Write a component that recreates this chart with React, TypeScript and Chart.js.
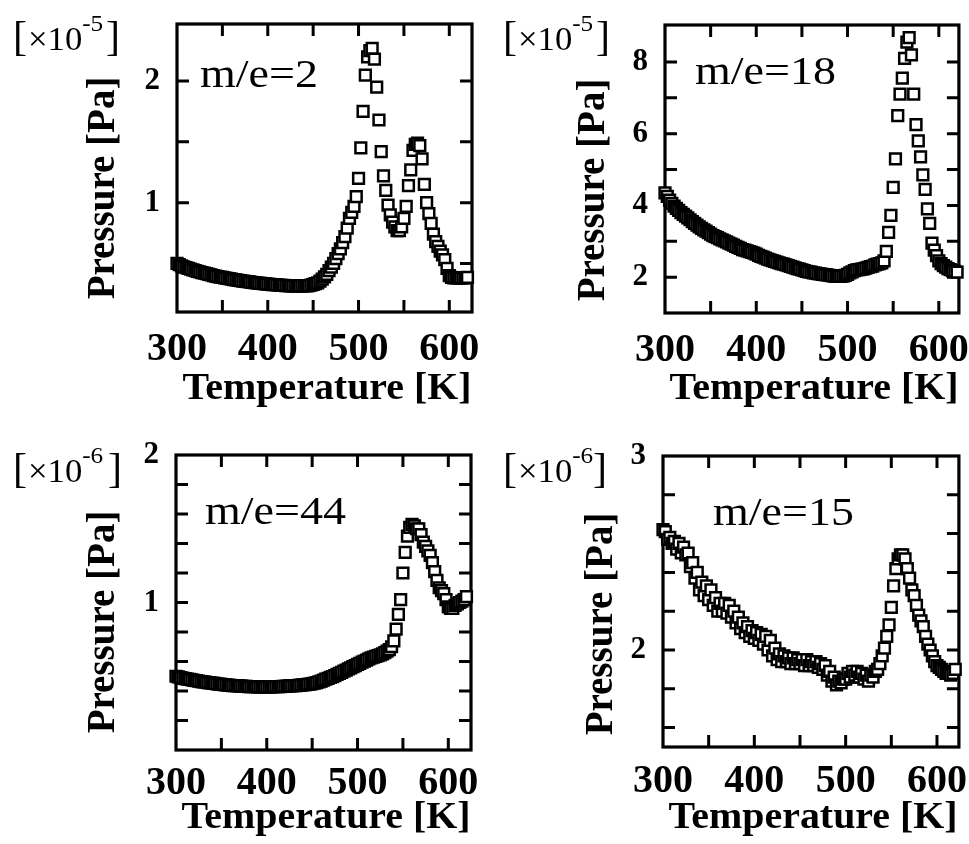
import React, { useEffect, useRef } from "react";
import { Chart, registerables } from "chart.js";

Chart.register(...registerables);

// Temperature [K] (shared by all four panels)
const temperatureK = [
  300, 302.5, 305, 307.5, 310, 312.5, 315, 317.5, 320, 322.5,
  325, 327.5, 330, 332.5, 335, 337.5, 340, 342.5, 345, 347.5,
  350, 352.5, 355, 357.5, 360, 362.5, 365, 367.5, 370, 372.5,
  375, 377.5, 380, 382.5, 385, 387.5, 390, 392.5, 395, 397.5,
  400, 402.5, 405, 407.5, 410, 412.5, 415, 417.5, 420, 422.5,
  425, 427.5, 430, 432.5, 435, 437.5, 440, 442.5, 445, 447.5,
  450, 452.5, 455, 457.5, 460, 462.5, 465, 467.5, 470, 472.5,
  475, 477.5, 480, 482.5, 485, 487.5, 490, 492.5, 495, 497.5,
  500, 502.5, 505, 507.5, 510, 512.5, 515, 517.5, 520, 522.5,
  525, 527.5, 530, 532.5, 535, 537.5, 540, 542.5, 545, 547.5,
  550, 552.5, 555, 557.5, 560, 562.5, 565, 567.5, 570, 572.5,
  575, 577.5, 580, 582.5, 585, 587.5, 590, 592.5, 595, 597.5,
  600, 602.5, 605, 607.5, 610, 612.5, 615, 617.5, 620,
];

// m/e=2, pressure in units of 1e-5 Pa
const pressureMe2 = [
  0.50, 0.49, 0.48, 0.472, 0.465, 0.458, 0.452, 0.446, 0.44, 0.435,
  0.43, 0.425, 0.42, 0.415, 0.41, 0.405, 0.40, 0.396, 0.392, 0.388,
  0.384, 0.38, 0.377, 0.374, 0.37, 0.367, 0.364, 0.361, 0.358, 0.355,
  0.352, 0.35, 0.347, 0.344, 0.342, 0.34, 0.337, 0.335, 0.333, 0.331,
  0.33, 0.328, 0.326, 0.325, 0.323, 0.322, 0.32, 0.319, 0.318, 0.317,
  0.316, 0.315, 0.315, 0.314, 0.314, 0.314, 0.315, 0.316, 0.318, 0.322,
  0.327, 0.333, 0.34, 0.355, 0.37, 0.39, 0.41, 0.44, 0.47, 0.50,
  0.54, 0.58, 0.62, 0.67, 0.72, 0.79, 0.87, 0.92, 0.97, 1.05,
  1.2, 1.45, 1.75, 2.05, 2.2, 2.25, 2.27, 2.18, 1.95, 1.68,
  1.42, 1.22, 1.10, 0.98, 0.90, 0.84, 0.80, 0.77, 0.77, 0.80,
  0.87, 0.97, 1.14, 1.27, 1.43, 1.48, 1.49, 1.47, 1.36, 1.15,
  1.0, 0.91, 0.83, 0.74, 0.68, 0.64, 0.60, 0.57, 0.53, 0.46,
  0.40, 0.385, 0.38, 0.38, 0.38, 0.38, 0.38, 0.38, 0.385,
];

// m/e=18, pressure in units of 1e-5 Pa
const pressureMe18 = [
  4.35, 4.25, 4.15, 4.06, 3.98, 3.92, 3.86, 3.80, 3.75, 3.70,
  3.65, 3.60, 3.55, 3.50, 3.45, 3.40, 3.36, 3.32, 3.28, 3.24,
  3.20, 3.16, 3.13, 3.10, 3.07, 3.04, 3.01, 2.98, 2.95, 2.92,
  2.89, 2.86, 2.83, 2.80, 2.77, 2.75, 2.73, 2.71, 2.69, 2.67,
  2.64, 2.61, 2.58, 2.56, 2.53, 2.50, 2.48, 2.46, 2.44, 2.42,
  2.40, 2.38, 2.36, 2.34, 2.32, 2.30, 2.28, 2.26, 2.24, 2.22,
  2.20, 2.18, 2.16, 2.15, 2.14, 2.12, 2.11, 2.10, 2.09, 2.08,
  2.07, 2.06, 2.05, 2.04, 2.03, 2.02, 2.02, 2.02, 2.03, 2.05,
  2.08, 2.12, 2.15, 2.18, 2.20, 2.21, 2.22, 2.23, 2.25, 2.27,
  2.29, 2.31, 2.34, 2.36, 2.38, 2.40, 2.45, 2.72, 3.25, 3.72,
  4.5, 5.3, 6.5, 7.1, 7.55, 8.1, 8.55, 8.68, 8.2, 7.1,
  6.25, 5.8, 5.35, 4.85, 4.45, 3.9, 3.5, 2.95, 2.75, 2.6,
  2.45, 2.38, 2.32, 2.28, 2.24, 2.21, 2.18, 2.16, 2.14,
];

// m/e=44, pressure in units of 1e-6 Pa
const pressureMe44 = [
  0.50, 0.495, 0.49, 0.487, 0.484, 0.481, 0.478, 0.475, 0.472, 0.47,
  0.467, 0.464, 0.462, 0.46, 0.457, 0.455, 0.453, 0.451, 0.449, 0.447,
  0.445, 0.443, 0.441, 0.44, 0.438, 0.437, 0.436, 0.435, 0.434, 0.433,
  0.432, 0.431, 0.43, 0.43, 0.429, 0.429, 0.428, 0.428, 0.428, 0.428,
  0.428, 0.428, 0.428, 0.429, 0.429, 0.43, 0.43, 0.431, 0.432, 0.433,
  0.434, 0.435, 0.436, 0.437, 0.438, 0.44, 0.441, 0.443, 0.445, 0.447,
  0.45, 0.453, 0.457, 0.462, 0.467, 0.473, 0.48, 0.486, 0.492, 0.498,
  0.505, 0.512, 0.52, 0.527, 0.535, 0.542, 0.55, 0.557, 0.565, 0.572,
  0.58, 0.587, 0.595, 0.602, 0.61, 0.617, 0.625, 0.63, 0.635, 0.64,
  0.645, 0.652, 0.66, 0.67, 0.68, 0.70, 0.74, 0.82, 0.92, 1.02,
  1.2, 1.34, 1.45, 1.51, 1.53, 1.52, 1.50, 1.50, 1.46, 1.41,
  1.38, 1.35, 1.32, 1.27, 1.21, 1.15, 1.10, 1.08, 1.06, 1.02,
  0.97, 0.96, 0.96, 0.98, 0.99, 1.0, 1.01, 1.02, 1.04,
];

// m/e=15, pressure in units of 1e-6 Pa (noisy trace, two interleaved levels)
const pressureMe15 = [
  2.62, 2.61, 2.57, 2.58, 2.55, 2.56, 2.52, 2.55, 2.50, 2.53,
  2.49, 2.50, 2.43, 2.45, 2.37, 2.40, 2.31, 2.35, 2.28, 2.33,
  2.26, 2.31, 2.23, 2.27, 2.20, 2.24, 2.20, 2.24, 2.19, 2.23,
  2.17, 2.20, 2.14, 2.17, 2.11, 2.14, 2.09, 2.12, 2.07, 2.10,
  2.06, 2.09, 2.05, 2.08, 2.03, 2.07, 2.00, 2.05, 1.97, 2.01,
  1.95, 1.98, 1.94, 1.97, 1.94, 1.96, 1.93, 1.96, 1.93, 1.95,
  1.93, 1.95, 1.92, 1.95, 1.92, 1.94, 1.92, 1.94, 1.91, 1.93,
  1.90, 1.92, 1.87, 1.89, 1.84, 1.86, 1.82, 1.84, 1.83, 1.85,
  1.85, 1.88, 1.86, 1.89, 1.87, 1.89, 1.86, 1.88, 1.85, 1.87,
  1.84, 1.87, 1.86, 1.89, 1.90, 1.93, 1.97, 2.01, 2.07, 2.13,
  2.22, 2.33, 2.42, 2.47, 2.49, 2.49, 2.47, 2.42, 2.37, 2.31,
  2.28, 2.23, 2.18, 2.15, 2.12, 2.07, 2.03, 2.00, 1.97, 1.94,
  1.92, 1.91, 1.90, 1.89, 1.88, 1.88, 1.87, 1.88, 1.90,
];

// Tick labels / tick marks
const xTickLabels = [300, 400, 500, 600];
const xTickMarks = [350, 400, 450, 500, 550, 600];
const yTickLabelsMe2 = [1, 2];
const yTickMarksMe2 = [0.5, 1, 1.5, 2];
const yTickLabelsMe18 = [2, 4, 6, 8];
const yTickMarksMe18 = [2, 3, 4, 5, 6, 7, 8];
const yTickLabelsMe44 = [1, 2];
const yTickMarksMe44 = [0.2, 0.4, 0.6, 0.8, 1, 1.2, 1.4, 1.6, 1.8];
const yTickLabelsMe15 = [2, 3];
const yTickMarksMe15 = [1.6, 1.8, 2, 2.2, 2.4, 2.6, 2.8];

const xTitle = "Temperature [K]";
const yTitle = "Pressure [Pa]";

type Panel = {
  key: string;
  left: number;
  top: number;
  width: number;
  height: number;
  area: { l: number; t: number; r: number; b: number };
  xMin: number;
  xMax: number;
  yMin: number;
  yMax: number;
  values: number[];
  yLabels: number[];
  yMarks: number[];
  exponent: string;
  label: string;
  pos: {
    multX: number;
    multR: number;
    multY: number;
    yTitleX: number;
    yTitleY: number;
    xTitleX: number;
    xTitleY: number;
    labelX: number;
    labelY: number;
    xTickPad: number;
  };
};

const panels: Panel[] = [
  {
    key: "me2",
    left: 0, top: 0, width: 485, height: 422,
    area: { l: 177, t: 24, r: 472, b: 312 },
    xMin: 300, xMax: 625, yMin: 0.1, yMax: 2.47,
    values: pressureMe2, yLabels: yTickLabelsMe2, yMarks: yTickMarksMe2,
    exponent: "-5", label: "m/e=2",
    pos: { multX: 13, multR: 120, multY: 50, yTitleX: 104, yTitleY: 188, xTitleX: 327, xTitleY: 399, labelX: 200, labelY: 87, xTickPad: 6 },
  },
  {
    key: "me18",
    left: 485, top: 0, width: 484, height: 422,
    area: { l: 180, t: 25, r: 475, b: 313 },
    xMin: 300, xMax: 622, yMin: 1, yMax: 9.03,
    values: pressureMe18, yLabels: yTickLabelsMe18, yMarks: yTickMarksMe18,
    exponent: "-5", label: "m/e=18",
    pos: { multX: 18, multR: 125, multY: 50, yTitleX: 109, yTitleY: 190, xTitleX: 329, xTitleY: 399, labelX: 210, labelY: 84, xTickPad: 6 },
  },
  {
    key: "me44",
    left: 0, top: 422, width: 485, height: 422,
    area: { l: 176, t: 33, r: 471, b: 328 },
    xMin: 300, xMax: 625, yMin: 0, yMax: 2,
    values: pressureMe44, yLabels: yTickLabelsMe44, yMarks: yTickMarksMe44,
    exponent: "-6", label: "m/e=44",
    pos: { multX: 13, multR: 122, multY: 60, yTitleX: 104, yTitleY: 200, xTitleX: 326, xTitleY: 406, labelX: 205, labelY: 102, xTickPad: 2 },
  },
  {
    key: "me15",
    left: 485, top: 422, width: 484, height: 422,
    area: { l: 178, t: 34, r: 475, b: 325 },
    xMin: 300, xMax: 624, yMin: 1.5, yMax: 3,
    values: pressureMe15, yLabels: yTickLabelsMe15, yMarks: yTickMarksMe15,
    exponent: "-6", label: "m/e=15",
    pos: { multX: 18, multR: 122, multY: 60, yTitleX: 117, yTitleY: 202, xTitleX: 328, xTitleY: 406, labelX: 228, labelY: 103, xTickPad: 3 },
  },
];

const FONT = '"Liberation Serif", "Times New Roman", serif';

function stretchText(
  ctx: CanvasRenderingContext2D,
  text: string,
  x: number,
  y: number,
  font: string,
  sx: number,
  align: CanvasTextAlign = "left"
): number {
  ctx.save();
  ctx.font = font;
  const w = ctx.measureText(text).width * sx;
  ctx.translate(x, y);
  ctx.scale(sx, 1);
  ctx.textAlign = align;
  ctx.textBaseline = "alphabetic";
  ctx.fillStyle = "#000";
  ctx.fillText(text, 0, 0);
  ctx.restore();
  return w;
}

function makeDecor(p: Panel) {
  return {
    id: "decor_" + p.key,
    beforeDatasetsDraw(chart: any) {
      const { ctx, chartArea: a } = chart;
      const xs = chart.scales.x;
      const ys = chart.scales.y;
      const L = 12;
      ctx.save();
      ctx.strokeStyle = "#000";
      ctx.lineWidth = 3.2;
      ctx.strokeRect(a.left, a.top, a.right - a.left, a.bottom - a.top);
      ctx.lineWidth = 3;
      ctx.beginPath();
      for (const v of xTickMarks) {
        if (v <= p.xMin || v >= p.xMax) continue;
        const px = xs.getPixelForValue(v);
        ctx.moveTo(px, a.bottom);
        ctx.lineTo(px, a.bottom - L);
        ctx.moveTo(px, a.top);
        ctx.lineTo(px, a.top + L);
      }
      for (const v of p.yMarks) {
        if (v <= p.yMin || v >= p.yMax) continue;
        const py = ys.getPixelForValue(v);
        ctx.moveTo(a.left, py);
        ctx.lineTo(a.left + L, py);
        ctx.moveTo(a.right, py);
        ctx.lineTo(a.right - L, py);
      }
      ctx.stroke();
      ctx.restore();
    },
    afterDraw(chart: any) {
      const ctx: CanvasRenderingContext2D = chart.ctx;
      const q = p.pos;
      // multiplier [×10^-n]
      let x = q.multX;
      x += stretchText(ctx, "[", x, q.multY, `42px ${FONT}`, 1);
      x += 1;
      x += stretchText(ctx, "\u00d710", x, q.multY, `34px ${FONT}`, 1.02);
      stretchText(ctx, p.exponent, x, q.multY - 19, `24px ${FONT}`, 1.05);
      stretchText(ctx, "]", q.multR, q.multY, `42px ${FONT}`, 1, "right");
      // y title (rotated)
      ctx.save();
      ctx.translate(q.yTitleX, q.yTitleY);
      ctx.rotate(-Math.PI / 2);
      ctx.font = `bold 39px ${FONT}`;
      ctx.textAlign = "center";
      ctx.textBaseline = "middle";
      ctx.fillStyle = "#000";
      ctx.fillText(yTitle, 0, 0);
      ctx.restore();
      // x title
      stretchText(ctx, xTitle, q.xTitleX, q.xTitleY, `bold 38px ${FONT}`, 1.05, "center");
      // m/e label
      stretchText(ctx, p.label, q.labelX, q.labelY, `40px ${FONT}`, 1.15, "left");
    },
  };
}

function PanelChart({ p }: { p: Panel }) {
  const ref = useRef<HTMLCanvasElement | null>(null);
  useEffect(() => {
    if (!ref.current) return;
    const chart = new Chart(ref.current, {
      type: "scatter",
      data: {
        datasets: [
          {
            data: temperatureK.map((t, i) => ({ x: t, y: p.values[i] })),
            pointStyle: "rect",
            pointRadius: 7.6,
            pointHoverRadius: 7.6,
            pointBorderWidth: 2.5,
            borderColor: "#000",
            backgroundColor: "#fff",
            showLine: false,
            clip: false as any,
          } as any,
        ],
      },
      options: {
        animation: false,
        responsive: false,
        devicePixelRatio: 1,
        events: [],
        layout: { padding: { left: 0, top: p.area.t, right: p.width - p.area.r, bottom: 0 } },
        plugins: { legend: { display: false }, tooltip: { enabled: false } },
        scales: {
          x: {
            type: "linear",
            min: p.xMin,
            max: p.xMax,
            grid: { display: false },
            border: { display: false },
            ticks: {
              autoSkip: false,
              maxRotation: 0,
              padding: p.pos.xTickPad,
              color: "#000",
              font: { family: FONT, size: 40, weight: "bold" },
            },
            afterBuildTicks: (s: any) => {
              s.ticks = xTickLabels.map((v) => ({ value: v }));
            },
            afterFit: (s: any) => {
              s.height = p.height - p.area.b;
              s.paddingLeft = 0;
              s.paddingRight = 0;
            },
          },
          y: {
            type: "linear",
            min: p.yMin,
            max: p.yMax,
            grid: { display: false },
            border: { display: false },
            ticks: {
              autoSkip: false,
              padding: 9,
              color: "#000",
              font: { family: FONT, size: 31, weight: "bold" },
            },
            afterBuildTicks: (s: any) => {
              s.ticks = p.yLabels.map((v) => ({ value: v }));
            },
            afterFit: (s: any) => {
              s.width = p.area.l;
              s.paddingTop = 0;
              s.paddingBottom = 0;
            },
          },
        },
      } as any,
      plugins: [makeDecor(p) as any],
    });
    return () => chart.destroy();
  }, [p]);
  return (
    <canvas
      ref={ref}
      width={p.width}
      height={p.height}
      style={{ position: "absolute", left: p.left, top: p.top, width: p.width, height: p.height }}
    />
  );
}

export default function App() {
  return (
    <div style={{ position: "absolute", left: 0, top: 0, width: 969, height: 844, background: "#fff", overflow: "hidden" }}>
      {panels.map((p) => (
        <PanelChart key={p.key} p={p} />
      ))}
    </div>
  );
}
